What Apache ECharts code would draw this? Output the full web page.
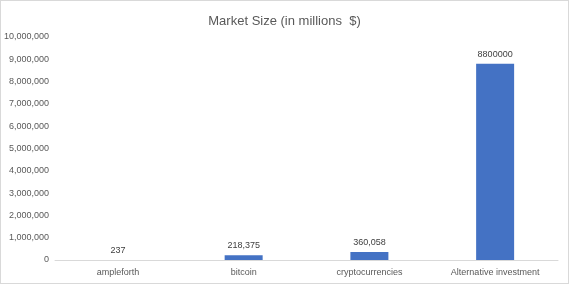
<!DOCTYPE html>
<html><head><meta charset="utf-8">
<script src="https://cdn.jsdelivr.net/npm/echarts@6/dist/echarts.min.js"></script>
<style>html,body{margin:0;padding:0;background:#fff}#c{width:569px;height:284px;box-sizing:border-box;border:1px solid #d9d9d9}</style>
</head><body><div id="c"></div>
<script>
const categories = ['ampleforth', 'bitcoin', 'cryptocurrencies', 'Alternative investment'];
const values = [237, 218375, 360058, 8800000];
const valueLabels = ['237', '218,375', '360,058', '8800000'];
const yTicks = {min: 0, max: 10000000, interval: 1000000};

const chart = echarts.init(document.getElementById('c'));
chart.setOption({
  animation: false,
  title: {text: 'Market Size (in millions  $)', left: 'center', top: 9,
    textStyle: {fontFamily: 'Liberation Sans', fontSize: 13, fontWeight: 'normal', color: '#595959'}},
  grid: {left: 51, right: 10, top: 36, bottom: 23},
  xAxis: {type: 'category', data: categories,
    axisLine: {lineStyle: {color: '#d9d9d9'}}, axisTick: {show: false},
    axisLabel: {fontFamily: 'Liberation Sans', fontSize: 9, color: '#595959', margin: 8}},
  yAxis: {type: 'value', min: yTicks.min, max: yTicks.max, interval: yTicks.interval,
    splitLine: {show: false}, axisLine: {show: false}, axisTick: {show: false},
    axisLabel: {fontFamily: 'Liberation Sans', fontSize: 9, color: '#595959', margin: 6,
      formatter: v => v.toLocaleString('en-US')}},
  series: [{type: 'bar', data: values, barWidth: 38, itemStyle: {color: '#4472c4'},
    label: {show: true, position: 'top', distance: 5, fontFamily: 'Liberation Sans', fontSize: 9, color: '#404040',
      formatter: p => valueLabels[p.dataIndex]}}]
});
</script></body></html>
